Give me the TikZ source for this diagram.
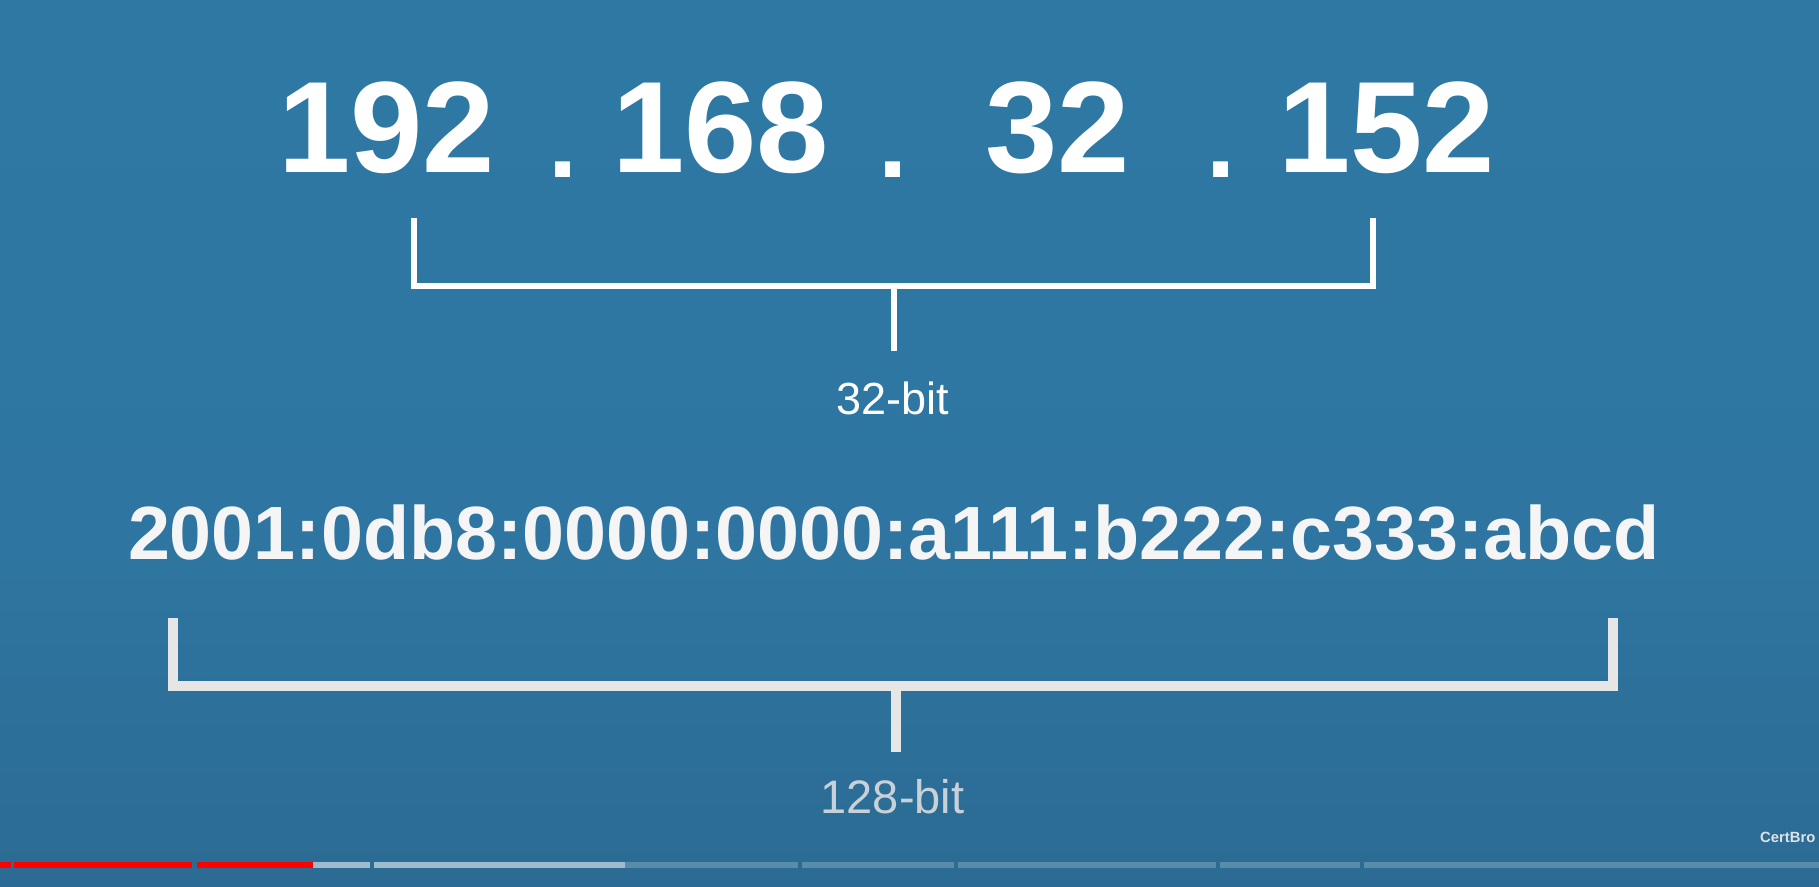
\documentclass[tikz,border=0pt]{standalone}
\usepackage{fontspec}
\setmainfont{Liberation Sans}
\definecolor{ctop}{HTML}{2F7AA7}
\definecolor{cmid}{HTML}{2E76A1}
\definecolor{cmidb}{HTML}{2A668D}
\definecolor{cbot}{HTML}{235373}
\definecolor{brgray}{HTML}{E6E6E6}
\definecolor{lblgray}{HTML}{C9D1D8}
\definecolor{markc}{HTML}{DDE3E8}
\pgfdeclareverticalshading{bgshade}{100bp}{color(0bp)=(cbot); color(16bp)=(cmidb); color(45bp)=(cmid); color(100bp)=(ctop)}
\tikzset{
  big/.style={inner sep=0pt, anchor=base, text=white, font=\bfseries\fontsize{130}{130}\selectfont},
  dotlbl/.style={inner sep=0pt, anchor=base, text=white, font=\bfseries\fontsize{105}{105}\selectfont},
  six/.style={inner sep=0pt, anchor=base, text=white!96!black, font=\bfseries\fontsize{75.5}{75.5}\selectfont},
  bitlbl/.style={inner sep=0pt, anchor=base, font=\fontsize{45}{45}\selectfont},
  brtop/.style={draw=white, line width=6.5pt, line join=miter},
  brbot/.style={draw=brgray, line width=10pt, line join=miter},
  brshadow/.style={draw=black, opacity=0.18, line width=10pt, line join=miter},
  redseg/.style={fill=red},
  lightseg/.style={fill=white, fill opacity=0.55},
  darkseg/.style={fill=white, fill opacity=0.22},
}
\begin{document}
\begin{tikzpicture}[x=1pt,y=-1pt]
\useasboundingbox (0,0) rectangle (1819,886);
\clip (0,0) rectangle (1819,886);
\shade[shading=bgshade] (0,0) rectangle (1819,886);

% IPv4
\node[big] (a1) at (386.5,172) {192};
\node[dotlbl] (d1) at (563.5,177) {.};
\node[big] (a2) at (720.5,172) {168};
\node[dotlbl] (d2) at (893,177) {.};
\node[big] (a3) at (1058,172) {32};
\node[dotlbl] (d3) at (1221.5,177) {.};
\node[big] (a4) at (1386.5,172) {152};

\coordinate (tl) at (414,218);
\coordinate (tlc) at (414,286);
\coordinate (trc) at (1373,286);
\coordinate (tr) at (1373,218);
\coordinate (tm) at (894,286);
\coordinate (tms) at (894,351);
\draw[brtop] (tl) -- (tlc) -- (trc) -- (tr);
\draw[brtop] (tm) -- (tms);
\node[bitlbl, text=white] (b32) at (892.5,414) {32-bit};

% IPv6
\node[six] (v6) at (894,559) {2001:0db8:0000:0000:a111:b222:c333:abcd};

\coordinate (bl) at (173,618);
\coordinate (blc) at (173,686);
\coordinate (brc) at (1613,686);
\coordinate (br) at (1613,618);
\coordinate (bm) at (896,686);
\coordinate (bms) at (896,752);
\begin{scope}[shift={(3,3)}]
\draw[brshadow] (bl) -- (blc) -- (brc) -- (br);
\draw[brshadow] (bm) -- (bms);
\end{scope}
\draw[brbot] (bl) -- (blc) -- (brc) -- (br);
\draw[brbot] (bm) -- (bms);
\node[bitlbl, text=lblgray, font=\fontsize{47}{47}\selectfont] (b128) at (892.5,813) {128-bit};

% watermark
\node[inner sep=0pt, anchor=base west, text=markc, font=\bfseries\fontsize{14.8}{14.8}\selectfont] (mark) at (1760,842) {CertBro};

% progress bar
\fill[redseg] (0,861.5) rectangle (11,867.5);
\fill[redseg] (14,861.5) rectangle (192,867.5);
\fill[redseg] (197,861.5) rectangle (313,867.5);
\fill[lightseg] (313,861.5) rectangle (370,867.5);
\fill[lightseg] (374,861.5) rectangle (625,867.5);
\fill[darkseg] (625,861.5) rectangle (798,867.5);
\fill[darkseg] (802,861.5) rectangle (954,867.5);
\fill[darkseg] (958,861.5) rectangle (1216,867.5);
\fill[darkseg] (1220,861.5) rectangle (1360,867.5);
\fill[darkseg] (1364,861.5) rectangle (1819,867.5);
\end{tikzpicture}
\end{document}
